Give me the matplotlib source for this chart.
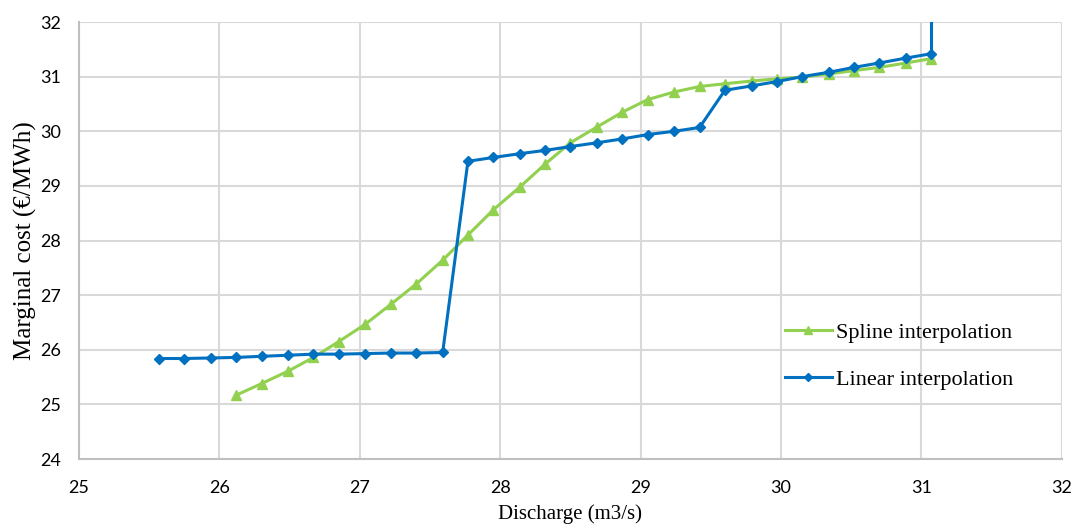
import matplotlib
matplotlib.use('Agg')
import matplotlib.pyplot as plt

# discharge grid (m3/s)
discharge = [25.57, 25.75, 25.94, 26.12, 26.30, 26.49, 26.67, 26.85, 27.04, 27.22,
             27.40, 27.59, 27.77, 27.95, 28.14, 28.32, 28.50, 28.69, 28.87, 29.05,
             29.24, 29.42, 29.60, 29.79, 29.97, 30.15, 30.34, 30.52, 30.70, 30.89,
             31.07]

linear_cost = [25.84, 25.84, 25.85, 25.86, 25.88, 25.90, 25.92, 25.92, 25.93, 25.94,
               25.94, 25.95, 29.45, 29.52, 29.59, 29.65, 29.72, 29.79, 29.86, 29.94,
               30.00, 30.07, 30.75, 30.83, 30.91, 31.00, 31.08, 31.17, 31.25, 31.34,
               31.42]

spline_discharge = discharge[3:]
spline_cost = [25.17, 25.38, 25.61, 25.86, 26.15, 26.47, 26.83, 27.20, 27.64, 28.10,
               28.56, 28.98, 29.40, 29.79, 30.08, 30.35, 30.58, 30.72, 30.82, 30.87,
               30.92, 30.96, 30.99, 31.05, 31.11, 31.17, 31.25, 31.33]

# the linear curve shoots straight up past the top of the chart at the end
linear_tail_x = [discharge[-1], discharge[-1]]
linear_tail_y = [linear_cost[-1], 34]

x_ticks = [25, 26, 27, 28, 29, 30, 31, 32]
y_ticks = [24, 25, 26, 27, 28, 29, 30, 31, 32]

GREEN = '#92D050'
BLUE = '#0070C0'
GRID = '#D9D9D9'

fig = plt.figure(figsize=(10.78, 5.32), dpi=100)
ax = fig.add_axes([0.0733, 0.1372, 0.9117, 0.8214])

ax.plot(spline_discharge, spline_cost, color=GREEN, lw=2.2, marker='^',
        ms=7.5, label='Spline interpolation', zorder=3)
ax.plot(discharge, linear_cost, color=BLUE, lw=2.2, marker='D',
        ms=5, label='Linear interpolation', zorder=4)
ax.plot(linear_tail_x, linear_tail_y, color=BLUE, lw=2.2, zorder=4)

ax.set_xlim(25, 32)
ax.set_ylim(24, 32)
ax.set_xticks(x_ticks)
ax.set_yticks(y_ticks)
ax.grid(True, color=GRID, lw=1.5)
ax.set_axisbelow(True)

for s in ['top', 'right']:
    ax.spines[s].set_visible(False)
for s in ['left', 'bottom']:
    ax.spines[s].set_color('#BFBFBF')
    ax.spines[s].set_linewidth(1.5)

ax.tick_params(length=0, labelsize=13, colors='#404040', labelcolor='black')
ax.tick_params(axis='x', pad=15)
ax.tick_params(axis='y', pad=13)
for lab in ax.get_xticklabels() + ax.get_yticklabels():
    lab.set_family('Lato')

ax.set_xlabel('Discharge (m3/s)', family='Liberation Serif', fontsize=15, labelpad=6)
ax.set_ylabel('Marginal cost (€/MWh)', family='Liberation Serif', fontsize=18, labelpad=2)

ax.legend(loc='upper left', bbox_to_anchor=(0.698, 0.359), frameon=False,
          prop={'family': 'Liberation Serif', 'size': 16}, handlelength=2.1,
          handletextpad=0.2, labelspacing=1.2, markerscale=0.75)

fig.savefig('out.png', dpi=100)
